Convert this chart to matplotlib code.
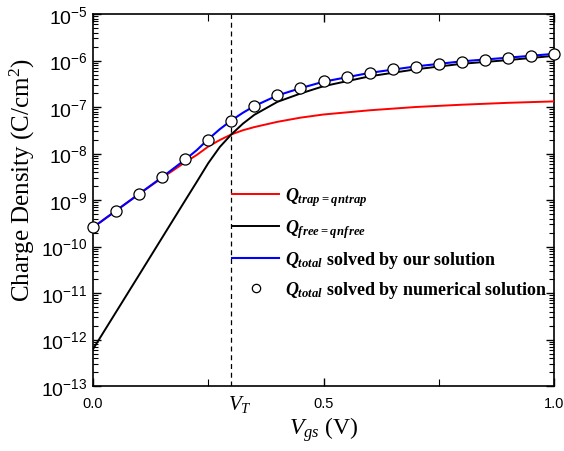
import math
import matplotlib
matplotlib.use("Agg")
import matplotlib.pyplot as plt
from matplotlib.ticker import FixedLocator, FuncFormatter, LogLocator, NullFormatter
from matplotlib.lines import Line2D

plt.rcParams['font.family'] = ['Liberation Sans', 'DejaVu Sans']
plt.rcParams['mathtext.fontset'] = 'custom'
plt.rcParams['mathtext.it'] = 'Liberation Serif:italic:bold'
plt.rcParams['mathtext.rm'] = 'Liberation Serif:bold'
plt.rcParams['mathtext.bf'] = 'Liberation Serif:bold'
plt.rcParams['mathtext.sf'] = 'Liberation Serif:italic'

# ---- data ----
vgs_line = [0.0, 0.05, 0.10, 0.15, 0.20, 0.225, 0.25, 0.275, 0.30, 0.325,
            0.35, 0.40, 0.45, 0.50, 0.60, 0.70, 0.80, 0.90, 1.00]
q_trap = [2.57e-10, 5.9e-10, 1.35e-9, 3.0e-9, 6.5e-9, 9.3e-9, 1.41e-8, 1.95e-8,
          2.57e-8, 3.16e-8, 3.7e-8, 4.8e-8, 5.9e-8, 6.9e-8, 8.5e-8, 1.0e-7,
          1.12e-7, 1.23e-7, 1.32e-7]
q_free = [6.2e-13, 3.9e-12, 2.45e-11, 1.55e-10, 9.8e-10, 2.45e-9, 6.2e-9, 1.38e-8,
          2.57e-8, 4.37e-8, 6.8e-8, 1.29e-7, 1.95e-7, 2.8e-7, 4.57e-7, 6.46e-7,
          8.5e-7, 1.02e-6, 1.26e-6]
q_total_ours = [2.57e-10, 5.9e-10, 1.35e-9, 3.1e-9, 7.4e-9, 1.18e-8, 2.03e-8, 3.33e-8,
                5.14e-8, 7.5e-8, 1.05e-7, 1.77e-7, 2.54e-7, 3.5e-7, 5.42e-7, 7.46e-7,
                9.6e-7, 1.15e-6, 1.39e-6]
vgs_num = [0.0, 0.05, 0.10, 0.15, 0.20, 0.25, 0.30, 0.35, 0.40, 0.45, 0.50,
           0.55, 0.60, 0.65, 0.70, 0.75, 0.80, 0.85, 0.90, 0.95, 1.00]
q_total_num = [2.57e-10, 5.9e-10, 1.35e-9, 3.1e-9, 7.8e-9, 1.95e-8, 4.9e-8, 1.05e-7,
               1.78e-7, 2.54e-7, 3.55e-7, 4.37e-7, 5.37e-7, 6.46e-7, 7.41e-7, 8.3e-7,
               9.5e-7, 1.05e-6, 1.15e-6, 1.27e-6, 1.38e-6]
v_t = 0.30
x_ticks = [0.0, 0.5, 1.0]
x_ticklabels = ['0.0', '0.5', '1.0']
y_exponents = [-13, -12, -11, -10, -9, -8, -7, -6, -5]

labels = [r'$Q_{trap}{}_{=qn}{}_{trap}$',
          r'$Q_{free}{}_{=qn}{}_{free}$',
          r'$Q_{total}$ solved by our solution',
          r'$Q_{total}$ solved by numerical solution']

fig = plt.figure(figsize=(5.64, 4.52), dpi=100)
ax = fig.add_axes([0.1649, 0.1438, 0.8174, 0.823])

ax.plot(vgs_line, q_trap, color='#ff0000', lw=1.4, zorder=3)
ax.plot(vgs_line, q_free, color='black', lw=1.4, zorder=3)
ax.plot(vgs_line, q_total_ours, color='#0000ff', lw=1.5, zorder=4)
ax.plot(vgs_num, q_total_num, ls='none', marker='o', ms=8, mfc='white',
        mec='black', mew=0.9, zorder=5, clip_on=False)
ax.axvline(v_t, color='black', ls=(0, (4, 3)), lw=0.9, zorder=2)

ax.set_yscale('log')
ax.set_xlim(0, 1)
ax.set_ylim(1e-13, 1e-5)

ax.yaxis.set_major_locator(FixedLocator([10.0 ** e for e in y_exponents]))
ax.yaxis.set_major_formatter(FuncFormatter(
    lambda v, p: r'$\mathregular{10^{%d}}$' % round(math.log10(v))))
ax.yaxis.set_minor_locator(LogLocator(base=10, subs=range(2, 10), numticks=100))
ax.yaxis.set_minor_formatter(NullFormatter())

ax.set_xticks(x_ticks)
ax.set_xticklabels(x_ticklabels)
ax.set_xticks([0.25, 0.75], minor=True)

ax.tick_params(axis='both', which='both', direction='in', top=True, right=True)
ax.tick_params(axis='both', which='major', length=6, width=1.0)
ax.tick_params(axis='both', which='minor', length=3.5, width=0.8)
ax.tick_params(axis='x', which='minor', length=5)
ax.tick_params(axis='y', labelsize=14, pad=4)
ax.tick_params(axis='x', labelsize=10.5, pad=7)
for s in ax.spines.values():
    s.set_linewidth(1.2)

ax.set_ylabel(r'Charge Density (C/cm$\mathregular{^2}$)', family='Liberation Serif',
              fontsize=18)
ax.yaxis.set_label_coords(-0.121, 0.555)
ax.set_xlabel(r'$\mathsf{V_{gs}}$ (V)', family='Liberation Serif', fontsize=17, labelpad=3)
ax.annotate(r'$\mathsf{V_T}$', xy=(v_t, 0), xycoords=('data', 'axes fraction'),
            xytext=(6, -5), textcoords='offset points', ha='center', va='top',
            fontsize=15, family='Liberation Serif')

handles = [Line2D([], [], color='#ff0000', lw=1.4),
           Line2D([], [], color='black', lw=1.4),
           Line2D([], [], color='#0000ff', lw=1.5),
           Line2D([], [], ls='none', marker='o', ms=6, mfc='white', mec='black', mew=0.9)]
ax.legend(handles, labels, loc='upper left', bbox_to_anchor=(0.302, 0.54),
          frameon=False, borderpad=0, borderaxespad=0, handlelength=2.6,
          handletextpad=0.3, labelspacing=0.5,
          prop={'family': 'Liberation Serif', 'weight': 'bold', 'size': 13})

fig.savefig('out.png', dpi=100)
